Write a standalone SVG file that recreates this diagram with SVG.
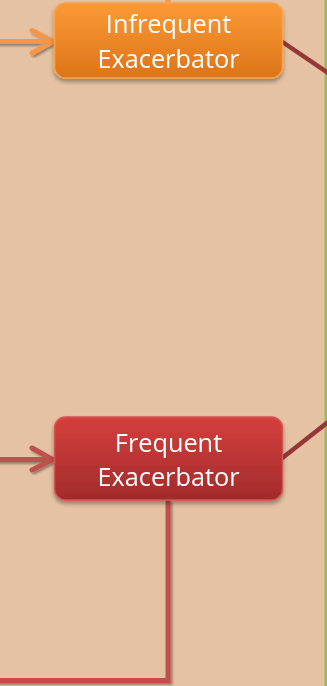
<svg xmlns="http://www.w3.org/2000/svg" width="327" height="686" viewBox="0 0 327 686">
<defs>
<linearGradient id="gOr" x1="0" y1="0" x2="0" y2="1">
<stop offset="0" stop-color="#FA9A36"/>
<stop offset="1" stop-color="#DD7419"/>
</linearGradient>
<linearGradient id="gRd" x1="0" y1="0" x2="0" y2="1">
<stop offset="0" stop-color="#D43F3D"/>
<stop offset="1" stop-color="#A22B2B"/>
</linearGradient>
<filter id="sh" x="-20%" y="-20%" width="140%" height="150%">
<feGaussianBlur in="SourceAlpha" stdDeviation="2"/>
<feOffset dx="0" dy="2.5" result="b"/>
<feComponentTransfer><feFuncA type="linear" slope="0.35"/></feComponentTransfer>
<feMerge><feMergeNode/><feMergeNode in="SourceGraphic"/></feMerge>
</filter>
<filter id="lsh" x="-20%" y="-20%" width="140%" height="140%">
<feGaussianBlur in="SourceAlpha" stdDeviation="1.2"/>
<feOffset dx="1.5" dy="2" result="b"/>
<feComponentTransfer><feFuncA type="linear" slope="0.35"/></feComponentTransfer>
<feMerge><feMergeNode/><feMergeNode in="SourceGraphic"/></feMerge>
</filter>
</defs>
<style>
.lbl{font-family:"Open Sans","Liberation Sans",sans-serif;font-size:25.3px;fill:#FFFFFF;text-anchor:middle}
.ora{fill:none;stroke:#F79646;stroke-width:5;stroke-linecap:round;stroke-linejoin:round}
.red{fill:none;stroke:#C0504D;stroke-width:5;stroke-linejoin:miter}
.redarr{fill:none;stroke:#C0504D;stroke-width:5;stroke-linecap:round;stroke-linejoin:round}
.dk{fill:none;stroke:#953735;stroke-width:4.5}
</style>
<rect x="0" y="0" width="327" height="686" fill="#E4C2A3"/>
<rect x="324.5" y="0" width="2.5" height="686" fill="#9BBB59"/>
<g id="connectors">
<line class="ora" x1="168" y1="-2" x2="168" y2="3" style="stroke-linecap:butt"/>
<g filter="url(#lsh)">
<line class="ora" x1="-3" y1="41.5" x2="51" y2="41.5"/>
<polyline class="ora" points="32,30.5 52.5,41.5 32,53"/>
</g>
<g filter="url(#lsh)">
<line class="redarr" x1="-3" y1="459.5" x2="51" y2="459.5"/>
<polyline class="redarr" points="32,448 52.5,459.5 32,470"/>
</g>
<line class="dk" x1="281" y1="41" x2="328" y2="73"/>
<line class="dk" x1="281" y1="459" x2="328" y2="422"/>
<polyline class="red" filter="url(#lsh)" points="168,500 168,680.5 -5,680.5"/>
</g>
<g id="infrequent" filter="url(#sh)">
<rect x="54.5" y="3" width="228" height="75" rx="11" fill="url(#gOr)" stroke="#F9A24A" stroke-width="1.5"/>
<text class="lbl" x="168.5" y="33">Infrequent</text>
<text class="lbl" x="168.5" y="68">Exacerbator</text>
</g>
<g id="frequent" filter="url(#sh)">
<rect x="54.5" y="417" width="228" height="83" rx="11" fill="url(#gRd)" stroke="#D45654" stroke-width="1.5"/>
<text class="lbl" x="168.5" y="452">Frequent</text>
<text class="lbl" x="168.5" y="486">Exacerbator</text>
</g>
</svg>
